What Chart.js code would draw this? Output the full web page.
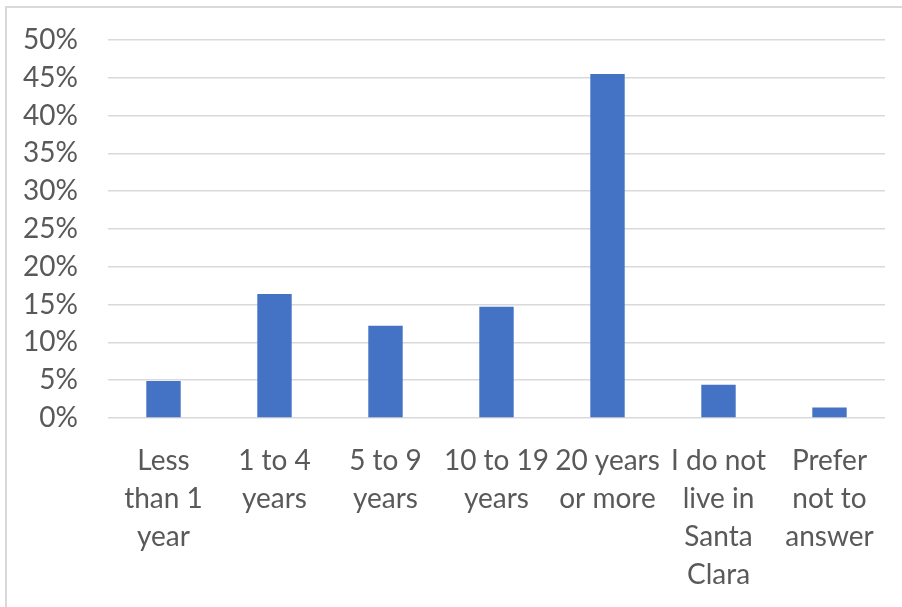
<!DOCTYPE html>
<html>
<head>
<meta charset="utf-8">
<script src="https://cdn.jsdelivr.net/npm/chart.js@4/dist/chart.umd.min.js"></script>
<style>
  html, body { margin: 0; padding: 0; background: #ffffff; overflow: hidden; }
  #wrap { position: relative; width: 902px; height: 607px; }
  #chart { position: absolute; left: 0; top: 0; }
  #frame {
    position: absolute; left: 5px; top: 6px; width: 920px; height: 640px;
    border-left: 2px solid #d9d9d9; border-top: 2px solid #d9d9d9;
    pointer-events: none;
  }
</style>
</head>
<body>
<div id="wrap">
  <canvas id="chart" width="902" height="607"></canvas>
  <div id="frame"></div>
</div>
<script>
// Length of residence, share of respondents (%)
const categories = [
  ["Less", "than 1", "year"],
  ["1 to 4", "years"],
  ["5 to 9", "years"],
  ["10 to 19", "years"],
  ["20 years", "or more"],
  ["I do not", "live in", "Santa", "Clara"],
  ["Prefer", "not to", "answer"]
];
const shares = [4.9, 16.4, 12.2, 14.7, 45.5, 4.4, 1.4];
const yMin = 0;
const yMax = 50;
const yStep = 5;

const textColor = '#595959';
const gridColor = '#d9d9d9';
const barColor = '#4472c4';
const fontFamily = 'Lato, "Open Sans", sans-serif';

new Chart(document.getElementById('chart'), {
  type: 'bar',
  data: {
    labels: categories,
    datasets: [{
      data: shares,
      backgroundColor: barColor,
      borderWidth: 0,
      barPercentage: 0.31,
      categoryPercentage: 1.0
    }]
  },
  options: {
    responsive: false,
    animation: false,
    layout: { padding: { left: 0, right: 17, top: 40, bottom: 0 } },
    plugins: {
      legend: { display: false },
      tooltip: { enabled: false }
    },
    scales: {
      x: {
        grid: { display: false, drawTicks: false },
        border: { display: false },
        ticks: {
          color: textColor,
          font: { family: fontFamily, size: 28, lineHeight: 38 / 28 },
          padding: 24,
          maxRotation: 0,
          minRotation: 0,
          autoSkip: false
        },
        afterFit: (scale) => { scale.height = 189; }
      },
      y: {
        min: yMin,
        max: yMax,
        grid: { color: gridColor, lineWidth: 1.5, drawTicks: false },
        border: { display: false },
        ticks: {
          stepSize: yStep,
          color: textColor,
          font: { family: fontFamily, size: 28 },
          padding: 30,
          callback: (v) => v + '%'
        },
        afterFit: (scale) => {
          scale.width = 108;
          scale.paddingTop = 0;
          scale.paddingBottom = 0;
        }
      }
    }
  }
});
</script>
</body>
</html>
